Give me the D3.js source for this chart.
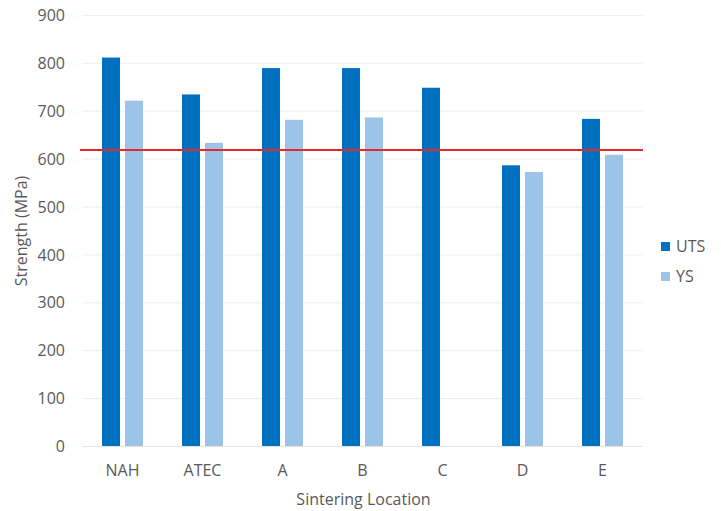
<!DOCTYPE html>
<html>
<head>
<meta charset="utf-8">
<script src="https://cdn.jsdelivr.net/npm/d3@7"></script>
<style>
  html, body { margin: 0; padding: 0; background: #ffffff; }
  svg text { font-family: "Open Sans", Lato, sans-serif; fill: #595959; }
</style>
</head>
<body>
<svg id="chart" width="721" height="511"></svg>
<script>
// Sintering locations along the x axis
const categories = ["NAH", "ATEC", "A", "B", "C", "D", "E"];
// Series names
const seriesNames = ["UTS", "YS"];
// Ultimate tensile strength (MPa)
const utsValues = [812, 735, 790, 790, 749, 587, 684];
// Yield strength (MPa); no value for C
const ysValues = [722, 634, 682, 687, null, 573, 609];
// Minimum strength requirement (MPa)
const thresholdValue = 619;
// Y axis ticks
const yTicks = [0, 100, 200, 300, 400, 500, 600, 700, 800, 900];

const colors = { UTS: "#0070C0", YS: "#9DC3E6" };
const fontFamily = "'Open Sans', Lato, sans-serif";
const textColor = "#575757";
const fontSize = 16;

const svg = d3.select("#chart");
const plot = { left: 82.5, right: 642.5, top: 15.4, bottom: 446.5 };

const x0 = d3.scaleBand()
  .domain(categories)
  .range([plot.left, plot.right])
  .paddingInner(0)
  .paddingOuter(0);

// Two bars of 18px with a 5px gap, centred in each category
const groupHalf = 20.5;
const x1 = d3.scaleBand()
  .domain(seriesNames)
  .range([x0.bandwidth() / 2 - groupHalf, x0.bandwidth() / 2 + groupHalf])
  .paddingInner(2 - 41 / 23)
  .paddingOuter(0);

const y = d3.scaleLinear().domain([0, 900]).range([plot.bottom, plot.top]);

// Horizontal gridlines
svg.append("g")
  .selectAll("line")
  .data(yTicks.filter(d => d > 0))
  .join("line")
  .attr("x1", plot.left).attr("x2", plot.right)
  .attr("y1", d => y(d)).attr("y2", d => y(d))
  .attr("stroke", "#EEEEEE").attr("stroke-width", 1);

// Y axis tick labels
const yAxis = d3.axisLeft(y).tickValues(yTicks).tickSize(0).tickPadding(0);
const gy = svg.append("g").attr("transform", "translate(65,0)").call(yAxis);
gy.select(".domain").remove();
gy.selectAll("text")
  .attr("font-size", fontSize)
  .attr("font-family", fontFamily)
  .attr("fill", textColor);

// Bars
const rows = categories.map((c, i) => ({ cat: c, UTS: utsValues[i], YS: ysValues[i] }));
const groups = svg.append("g")
  .selectAll("g")
  .data(rows)
  .join("g")
  .attr("transform", d => `translate(${x0(d.cat)},0)`);

groups.selectAll("rect")
  .data(d => seriesNames.map(s => ({ key: s, value: d[s] })).filter(v => v.value != null))
  .join("rect")
  .attr("x", d => x1(d.key))
  .attr("width", x1.bandwidth())
  .attr("y", d => y(d.value))
  .attr("height", d => y(0) - y(d.value))
  .attr("fill", d => colors[d.key]);

// Baseline
svg.append("line")
  .attr("x1", plot.left).attr("x2", plot.right)
  .attr("y1", y(0)).attr("y2", y(0))
  .attr("stroke", "#E4E4E4").attr("stroke-width", 1);

// X axis category labels
const xAxis = d3.axisBottom(x0).tickSize(0).tickPadding(0);
const gx = svg.append("g").attr("transform", `translate(0,${plot.bottom + 18})`).call(xAxis);
gx.select(".domain").remove();
gx.selectAll("text")
  .attr("font-size", fontSize)
  .attr("font-family", fontFamily)
  .attr("fill", textColor);

// Threshold line
svg.append("line")
  .attr("x1", 80).attr("x2", 643)
  .attr("y1", y(thresholdValue)).attr("y2", y(thresholdValue))
  .attr("stroke", "#E8262A").attr("stroke-width", 2);

// Axis titles
svg.append("text")
  .attr("x", (plot.left + plot.right) / 2 + 1)
  .attr("y", 505)
  .attr("text-anchor", "middle")
  .attr("font-size", fontSize)
  .attr("fill", textColor)
  .text("Sintering Location");

svg.append("text")
  .attr("transform", `translate(27,${(plot.top + plot.bottom) / 2}) rotate(-90)`)
  .attr("text-anchor", "middle")
  .attr("font-size", fontSize)
  .attr("fill", textColor)
  .text("Strength (MPa)");

// Legend
const legend = svg.append("g").attr("transform", "translate(661,246.5)");
const items = legend.selectAll("g")
  .data(seriesNames)
  .join("g")
  .attr("transform", (d, i) => `translate(0,${i * 30})`);
items.append("rect")
  .attr("x", 0).attr("y", -4.5)
  .attr("width", 9).attr("height", 9)
  .attr("fill", d => colors[d]);
items.append("text")
  .attr("x", 15).attr("y", 0)
  .attr("dy", "0.35em")
  .attr("font-size", fontSize)
  .attr("fill", textColor)
  .text(d => d);
</script>
</body>
</html>
